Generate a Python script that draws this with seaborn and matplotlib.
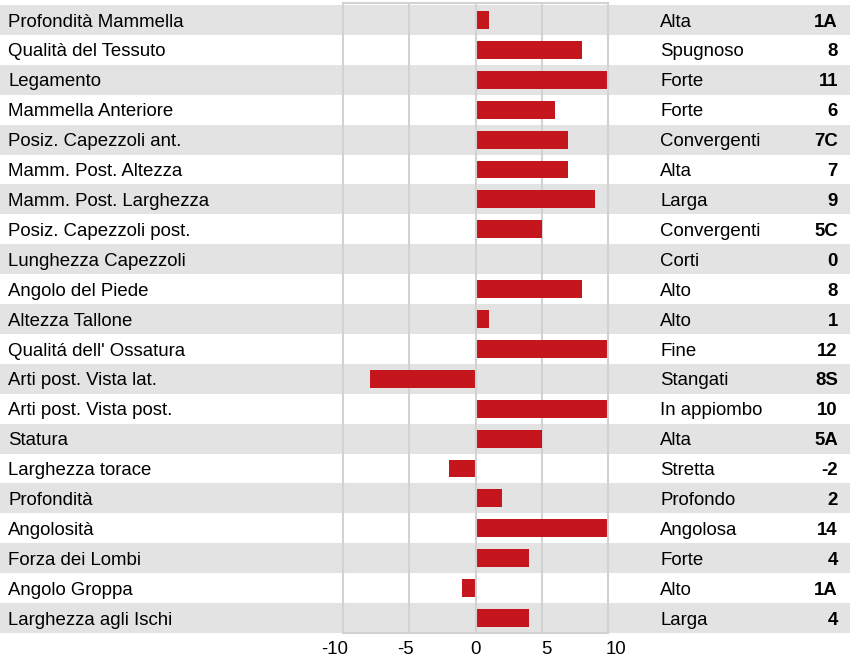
import matplotlib
matplotlib.use("Agg")
import matplotlib.pyplot as plt
import matplotlib.transforms as mtransforms
from matplotlib.patches import Rectangle
import seaborn as sns
import pandas as pd

traits = [
    "Profondità Mammella", "Qualità del Tessuto", "Legamento", "Mammella Anteriore",
    "Posiz. Capezzoli ant.", "Mamm. Post. Altezza", "Mamm. Post. Larghezza",
    "Posiz. Capezzoli post.", "Lunghezza Capezzoli", "Angolo del Piede",
    "Altezza Tallone", "Qualitá dell' Ossatura", "Arti post. Vista lat.",
    "Arti post. Vista post.", "Statura", "Larghezza torace", "Profondità",
    "Angolosità", "Forza dei Lombi", "Angolo Groppa", "Larghezza agli Ischi",
]
descriptions = [
    "Alta", "Spugnoso", "Forte", "Forte", "Convergenti", "Alta", "Larga",
    "Convergenti", "Corti", "Alto", "Alto", "Fine", "Stangati", "In appiombo",
    "Alta", "Stretta", "Profondo", "Angolosa", "Forte", "Alto", "Larga",
]
scores = [
    "1A", "8", "11", "6", "7C", "7", "9", "5C", "0", "8", "1", "12", "8S",
    "10", "5A", "-2", "2", "14", "4", "1A", "4",
]
bar_values = [1, 8, 10, 6, 7, 7, 9, 5, 0, 8, 1, 10, -8, 10, 5, -2, 2, 10, 4, -1, 4]
tick_values = [-10, -5, 0, 5, 10]

BAR = "#c4161c"
BAND = "#e3e3e3"
GRID = "#d2d2d2"
TXT = "#000000"
FONT = "Liberation Sans"
FS = 13.4

sns.set_style("white")
plt.rcParams["font.family"] = [FONT, "DejaVu Sans"]

W, H = 858, 658
PITCH = 29.9
fig = plt.figure(figsize=(W / 100, H / 100), dpi=100)
ax = fig.add_axes([343 / W, 1 - 633 / H, (608 - 343) / W, 630 / H])
ax.patch.set_facecolor("none")

df = pd.DataFrame({"trait": traits, "value": bar_values})
n = len(traits)

blend = mtransforms.blended_transform_factory(fig.transFigure, ax.transData)
for i in range(0, n, 2):
    ax.add_patch(Rectangle((0, i - 0.5), 850 / W, 1, transform=blend,
                           facecolor=BAND, edgecolor="none", clip_on=False, zorder=0))

for g in [-5, 5]:
    ax.axvline(g, color=GRID, lw=1.5, zorder=0.5)

sns.barplot(data=df, x="value", y="trait", orient="h", color=BAR, width=0.6,
            errorbar=None, saturation=1, ax=ax, zorder=2, linewidth=0)

ax.axvline(0, color=GRID, lw=1.5, zorder=3)

ax.set_xlim(-10, 10)
ax.set_ylim(n - 0.5, -0.5 - 2 / PITCH)
ax.set_yticks([])
ax.set_xticks([])
ax.set_xlabel("")
ax.set_ylabel("")
for s in ax.spines.values():
    s.set_visible(True)
    s.set_color(GRID)
    s.set_linewidth(1.5)
    s.set_zorder(4)

off = 6.6 / PITCH
for i in range(n):
    y = i + off
    ax.text(8 / W, y, traits[i], transform=blend, ha="left", va="baseline",
            fontsize=FS, color=TXT)
    ax.text(660 / W, y, descriptions[i], transform=blend, ha="left", va="baseline",
            fontsize=FS, color=TXT)
    ax.text(838 / W, y, scores[i], transform=blend, ha="right", va="baseline",
            fontsize=FS, color=TXT, fontweight="bold")

# tick labels (spread slightly wider than the plotting scale)
k = 1.064
tblend = mtransforms.blended_transform_factory(ax.transData, fig.transFigure)
for t in tick_values:
    ax.text(t * k, 1 - 653.5 / H, str(t), transform=tblend, ha="center", va="baseline",
            fontsize=FS, color=TXT, clip_on=False)

fig.savefig("out.png", dpi=100)
